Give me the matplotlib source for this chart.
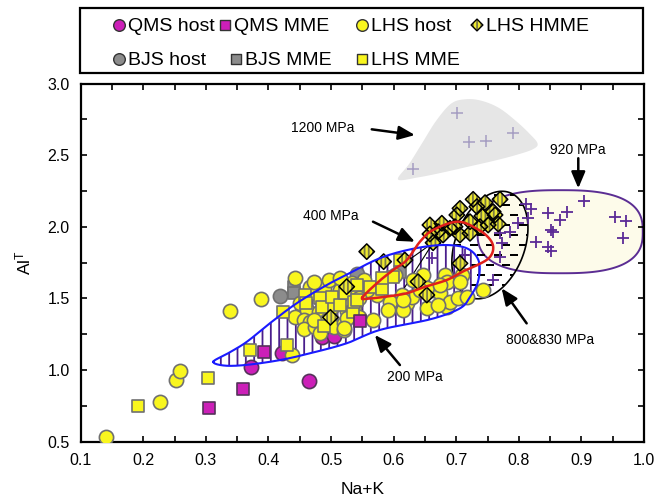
import numpy as np
import matplotlib
matplotlib.use("Agg")
import matplotlib.pyplot as plt
from matplotlib.patches import Polygon
from matplotlib.ticker import FormatStrFormatter

plt.rcParams['font.family'] = ['Liberation Sans', 'DejaVu Sans']
plt.rcParams['mathtext.fontset'] = 'custom'
plt.rcParams['mathtext.rm'] = 'Liberation Sans'
plt.rcParams['mathtext.it'] = 'Liberation Sans:italic'
plt.rcParams['hatch.linewidth'] = 1.3

# ---------------- data ----------------
qms_host_x = [0.372, 0.422, 0.465, 0.485, 0.504]
qms_host_y = [1.022, 1.116, 0.925, 1.232, 1.237]

qms_mme_x = [0.305, 0.360, 0.393, 0.546]
qms_mme_y = [0.736, 0.864, 1.127, 1.339]

bjs_host_x = [0.418, 0.461, 0.541, 0.498]
bjs_host_y = [1.516, 1.337, 1.668, 1.372]

bjs_mme_x = [0.440, 0.441, 0.610]
bjs_mme_y = [1.581, 1.535, 1.686]

lhs_host_x = [0.140, 0.226, 0.253, 0.258, 0.339, 0.388, 0.437, 0.442,
              0.466, 0.474, 0.489, 0.450, 0.442, 0.461, 0.456, 0.466,
              0.456, 0.480, 0.493, 0.474, 0.504, 0.521, 0.520, 0.525,
              0.536, 0.541, 0.533, 0.514, 0.509, 0.501, 0.472, 0.496,
              0.514, 0.544, 0.483, 0.567, 0.525, 0.520, 0.602, 0.647,
              0.682, 0.703, 0.709, 0.743, 0.685, 0.663, 0.653, 0.674,
              0.685, 0.690, 0.703, 0.717, 0.653, 0.671, 0.621, 0.629,
              0.613, 0.594, 0.591, 0.615, 0.642, 0.631, 0.573, 0.557,
              0.544, 0.522, 0.530, 0.552, 0.706, 0.674, 0.615, 0.472]
lhs_host_y = [0.529, 0.778, 0.929, 0.992, 1.413, 1.493, 1.104, 1.644,
              1.581, 1.535, 1.570, 1.465, 1.372, 1.418, 1.348, 1.337,
              1.283, 1.407, 1.348, 1.297, 1.297, 1.325, 1.279, 1.414,
              1.441, 1.523, 1.604, 1.558, 1.488, 1.441, 1.616, 1.628,
              1.640, 1.372, 1.260, 1.348, 1.360, 1.290, 1.663, 1.663,
              1.663, 1.628, 1.663, 1.558, 1.616, 1.558, 1.570, 1.535,
              1.442, 1.476, 1.500, 1.511, 1.430, 1.453, 1.465, 1.511,
              1.523, 1.476, 1.418, 1.418, 1.558, 1.628, 1.523, 1.558,
              1.500, 1.511, 1.453, 1.628, 1.616, 1.593, 1.488, 1.348]

lhs_mme_x = [0.192, 0.303, 0.371, 0.429, 0.424, 0.458, 0.460, 0.482,
             0.485, 0.501, 0.514, 0.522, 0.535, 0.488, 0.536, 0.541,
             0.541, 0.562, 0.581, 0.599, 0.581, 0.610]
lhs_mme_y = [0.748, 0.941, 1.139, 1.174, 1.405, 1.523, 1.465, 1.500,
             1.441, 1.511, 1.453, 1.535, 1.407, 1.306, 1.476, 1.593,
             1.488, 1.581, 1.563, 1.651, 1.639, 1.767]

lhs_hmme_x = [0.727, 0.746, 0.770, 0.706, 0.733, 0.759, 0.701, 0.741,
              0.762, 0.677, 0.698, 0.722, 0.658, 0.671, 0.690, 0.706,
              0.722, 0.738, 0.751, 0.767, 0.658, 0.679, 0.663, 0.557,
              0.584, 0.618, 0.706, 0.639, 0.653, 0.525, 0.499]
lhs_hmme_y = [2.191, 2.168, 2.191, 2.128, 2.140, 2.105, 2.082, 2.075,
              2.082, 2.024, 2.000, 2.035, 2.012, 1.965, 1.989, 1.942,
              1.954, 2.000, 2.012, 2.019, 1.949, 1.942, 1.888, 1.826,
              1.756, 1.767, 1.744, 1.616, 1.523, 1.581, 1.367]

# amphibole compositions of the experimental fields
p1200_x = [0.701, 0.721, 0.747, 0.791, 0.631]
p1200_y = [2.796, 2.594, 2.601, 2.657, 2.400]

p920_x = [0.812, 0.819, 0.815, 0.847, 0.865, 0.877, 0.904, 0.852,
          0.855, 0.827, 0.847, 0.851, 0.954, 0.972, 0.967, 0.799,
          0.786, 0.770, 0.773, 0.770, 0.759, 0.661, 0.714]
p920_y = [2.159, 2.121, 2.058, 2.093, 2.047, 2.105, 2.182, 1.977,
          1.965, 1.896, 1.861, 1.833, 2.070, 2.042, 1.919, 2.024,
          1.965, 1.954, 1.884, 1.791, 1.628, 1.779, 1.802]

# field outlines
f1200_x = [0.607, 0.625, 0.645, 0.668, 0.692, 0.715, 0.740, 0.768,
           0.795, 0.817, 0.830, 0.822, 0.795, 0.760, 0.720, 0.680, 0.640]
f1200_y = [2.330, 2.440, 2.580, 2.740, 2.860, 2.890, 2.880, 2.830,
           2.740, 2.650, 2.580, 2.540, 2.500, 2.460, 2.420, 2.380, 2.345]

f200_x = [0.312, 0.335, 0.365, 0.405, 0.445, 0.490, 0.525, 0.578, 0.630,
          0.679, 0.717, 0.736, 0.735, 0.722, 0.706, 0.660, 0.578, 0.525,
          0.470, 0.419, 0.365, 0.330]
f200_y = [1.057, 1.115, 1.195, 1.335, 1.465, 1.585, 1.665, 1.780, 1.845,
          1.872, 1.849, 1.760, 1.620, 1.510, 1.430, 1.355, 1.279, 1.186,
          1.120, 1.069, 1.035, 1.030]

f400_x = [0.550, 0.576, 0.600, 0.621, 0.642, 0.663, 0.703, 0.737, 0.755,
          0.759, 0.752, 0.735, 0.712, 0.685, 0.650, 0.621, 0.585, 0.560]
f400_y = [1.505, 1.616, 1.700, 1.767, 1.895, 1.977, 2.035, 1.975, 1.905,
          1.840, 1.780, 1.735, 1.690, 1.628, 1.580, 1.535, 1.510, 1.498]

tie_x = [[0.663, 0.594], [0.663, 0.615]]
tie_y = [[1.888, 1.674], [1.888, 1.558]]

# ---------------- figure ----------------
W, H = 654, 499
fig = plt.figure(figsize=(W / 100, H / 100), dpi=100)
ax_l, ax_r, ax_t, ax_b = 80.7, 644.0, 83.5, 441.5
ax = fig.add_axes([ax_l / W, 1 - ax_b / H, (ax_r - ax_l) / W, (ax_b - ax_t) / H])
ax.set_xlim(0.1, 1.0)
ax.set_ylim(0.5, 3.0)

# display aspect: pixels per y unit relative to pixels per x unit
k = ((ax_b - ax_t) / 2.5) / ((ax_r - ax_l) / 0.9)


def ellipse(cx, cy, a, b, ang, n=300):
    t = np.linspace(0, 2 * np.pi, n)
    c, s = np.cos(np.radians(ang)), np.sin(np.radians(ang))
    u, v = a * np.cos(t), b * np.sin(t)
    return cx + u * c - v * s, cy + (u * s + v * c) / k


def superellipse(cx, cy, a, b, p, n=300):
    t = np.linspace(0, 2 * np.pi, n)
    ct, st = np.cos(t), np.sin(t)
    return (cx + a * np.sign(ct) * np.abs(ct) ** (2 / p),
            cy + b * np.sign(st) * np.abs(st) ** (2 / p))


def smooth_closed(xs, ys, per=24):
    """Closed Catmull-Rom curve through the given outline vertices."""
    P = np.c_[np.asarray(xs), np.asarray(ys) * k]
    m = len(P)
    out = []
    for i in range(m):
        p0, p1, p2, p3 = P[(i - 1) % m], P[i], P[(i + 1) % m], P[(i + 2) % m]
        for f in np.linspace(0, 1, per, endpoint=False):
            out.append(0.5 * (2 * p1 + (-p0 + p2) * f +
                              (2 * p0 - 5 * p1 + 4 * p2 - p3) * f ** 2 +
                              (-p0 + 3 * p1 - 3 * p2 + p3) * f ** 3))
    out.append(out[0])
    out = np.array(out)
    return out[:, 0], out[:, 1] / k


# 920 MPa field
sx, sy = superellipse(0.866, 1.965, 0.132, 0.290, 2.7)
ax.add_patch(Polygon(np.c_[sx, sy], closed=True, facecolor='#fdfbea',
                     edgecolor='#5b2d93', lw=1.4, zorder=1))

# 1200 MPa field
gx, gy = smooth_closed(f1200_x, f1200_y)
ax.add_patch(Polygon(np.c_[gx, gy], closed=True, facecolor='#e6e6e6',
                     edgecolor='none', zorder=1))

# 800 & 830 MPa field with dashes
bx, by = ellipse(0.7538, 1.872, 0.0895, 0.0553, 69)
black_field = Polygon(np.c_[bx, by], closed=True, facecolor='none',
                      edgecolor='black', lw=1.2, zorder=2)
ax.add_patch(black_field)
dash_rows = np.arange(1.45, 2.32, 0.07)
dx_list, dy_list = [], []
for j, yy in enumerate(dash_rows):
    off = 0.012 if j % 2 else 0.0
    for xx in np.arange(0.65 + off, 0.86, 0.026):
        dx_list.append(xx)
        dy_list.append(yy)
dashes = ax.scatter(dx_list, dy_list, marker='_', s=26, c='black',
                    linewidths=1.3, zorder=2)
dashes.set_clip_path(black_field)

# 200 MPa field (hatched)
ex, ey = smooth_closed(f200_x, f200_y)
ax.add_patch(Polygon(np.c_[ex, ey], closed=True, facecolor='none',
                     edgecolor='#4a1e8c', hatch='||', lw=0, zorder=2))

# crosses
ax.scatter(p1200_x, p1200_y, marker='+', s=70, c='#a59dc2', linewidths=1.1, zorder=2.5)
ax.scatter(p920_x, p920_y, marker='+', s=80, c='#5b2a96', linewidths=1.3, zorder=2.5)

for tx, ty in zip(tie_x, tie_y):
    ax.plot(tx, ty, color='black', lw=0.8, zorder=2.6)

# samples
edge = '#707070'
yellow = '#f9f61e'
magenta = '#cc1fb8'
grey = '#8c8c8c'
ax.scatter(bjs_host_x, bjs_host_y, marker='o', s=105, c=grey,
           edgecolors=edge, linewidths=1.2, zorder=3)
ax.scatter(bjs_mme_x, bjs_mme_y, marker='s', s=80, c=grey,
           edgecolors=edge, linewidths=1.2, zorder=3)
ax.scatter(qms_host_x, qms_host_y, marker='o', s=105, c=magenta,
           edgecolors='#55335a', linewidths=1.2, zorder=3)
ax.scatter(qms_mme_x, qms_mme_y, marker='s', s=80, c=magenta,
           edgecolors='#55335a', linewidths=1.2, zorder=3.2)
ax.scatter(lhs_host_x, lhs_host_y, marker='o', s=105, c=yellow,
           edgecolors=edge, linewidths=1.2, zorder=3.1)
ax.scatter(lhs_mme_x, lhs_mme_y, marker='s', s=80, c=yellow,
           edgecolors=edge, linewidths=1.2, zorder=3.15)
ax.scatter(lhs_hmme_x, lhs_hmme_y, marker='D', s=62, c='#eeea30',
           edgecolors='#7d7b45', linewidths=0, hatch='||||', zorder=3.3)
ax.scatter(lhs_hmme_x, lhs_hmme_y, marker='D', s=62, facecolors='none',
           edgecolors='black', linewidths=1.1, zorder=3.31)

# outlines over the symbols
ax.plot(ex, ey, color='#1a1aff', lw=1.5, zorder=4)
rx, ry = smooth_closed(f400_x, f400_y)
ax.plot(rx, ry, color='#e0201b', lw=1.8, zorder=4)

# labels with arrows
arrow = dict(arrowstyle='-|>,head_length=0.9,head_width=0.38', color='black',
             lw=1.8, shrinkA=0, shrinkB=0, mutation_scale=11)
fs = 10
ax.text(0.486, 2.687, '1200 MPa', fontsize=fs, ha='center', va='center')
ax.annotate('', xy=(0.634, 2.640), xytext=(0.565, 2.680), arrowprops=arrow, zorder=5)
ax.text(0.895, 2.536, '920 MPa', fontsize=fs, ha='center', va='center')
ax.annotate('', xy=(0.895, 2.268), xytext=(0.895, 2.478), arrowprops=arrow, zorder=5)
ax.text(0.499, 2.075, '400 MPa', fontsize=fs, ha='center', va='center')
ax.annotate('', xy=(0.634, 1.895), xytext=(0.567, 2.035), arrowprops=arrow, zorder=5)
ax.text(0.634, 0.953, '200 MPa', fontsize=fs, ha='center', va='center')
ax.annotate('', xy=(0.570, 1.244), xytext=(0.610, 1.034), arrowprops=arrow, zorder=5)
ax.text(0.850, 1.209, '800&830 MPa', fontsize=fs, ha='center', va='center')
ax.annotate('', xy=(0.7725, 1.570), xytext=(0.8125, 1.325), arrowprops=arrow, zorder=5)

# axes styling
ax.set_xticks(np.arange(0.1, 1.01, 0.1))
ax.set_xticks(np.arange(0.15, 1.0, 0.1), minor=True)
ax.set_yticks(np.arange(0.5, 3.01, 0.5))
ax.set_yticks(np.arange(0.75, 3.0, 0.5), minor=True)
ax.xaxis.set_major_formatter(FormatStrFormatter('%.1f'))
ax.yaxis.set_major_formatter(FormatStrFormatter('%.1f'))
ax.tick_params(which='both', direction='in', top=True, right=True,
               length=4, width=1.2, labelsize=11.5, pad=8)
for sp in ax.spines.values():
    sp.set_linewidth(1.6)
ax.set_xlabel('Na+K', fontsize=12.5, labelpad=10)
ax.set_ylabel(r'Al$^{\mathrm{T}}$', fontsize=12.5, labelpad=10)

# key box drawn in pixel coordinates above the plot
kax = fig.add_axes([0, 0, 1, 1], facecolor='none')
kax.set_xlim(0, W)
kax.set_ylim(H, 0)
kax.axis('off')
kax.add_patch(plt.Rectangle((80, 8), 563, 65, fill=False, edgecolor='black', lw=1.6))
key_entries = [
    ('QMS host', 'o', magenta, 119, 25),
    ('QMS MME', 's', magenta, 225, 25),
    ('LHS host', 'o', yellow, 362, 25),
    ('LHS HMME', 'D', '#eeea30', 477, 25),
    ('BJS host', 'o', grey, 119, 59),
    ('BJS MME', 's', grey, 236, 59),
    ('LHS MME', 's', yellow, 362, 59),
]
for label, mk, col, kx, ky in key_entries:
    size = {'o': 70, 's': 50, 'D': 36}[mk]
    if mk == 'D':
        kax.scatter([kx], [ky], marker=mk, s=size, c=col, edgecolors='#7d7b45',
                    linewidths=0, hatch='||||')
        kax.scatter([kx], [ky], marker=mk, s=size, facecolors='none',
                    edgecolors='black', linewidths=1.0)
    else:
        kax.scatter([kx], [ky], marker=mk, s=size, c=col, edgecolors='#333333',
                    linewidths=1.0)
    kax.text(kx + 9, ky + 1, label, fontsize=14, ha='left', va='center')

fig.savefig('out.png', dpi=100)
